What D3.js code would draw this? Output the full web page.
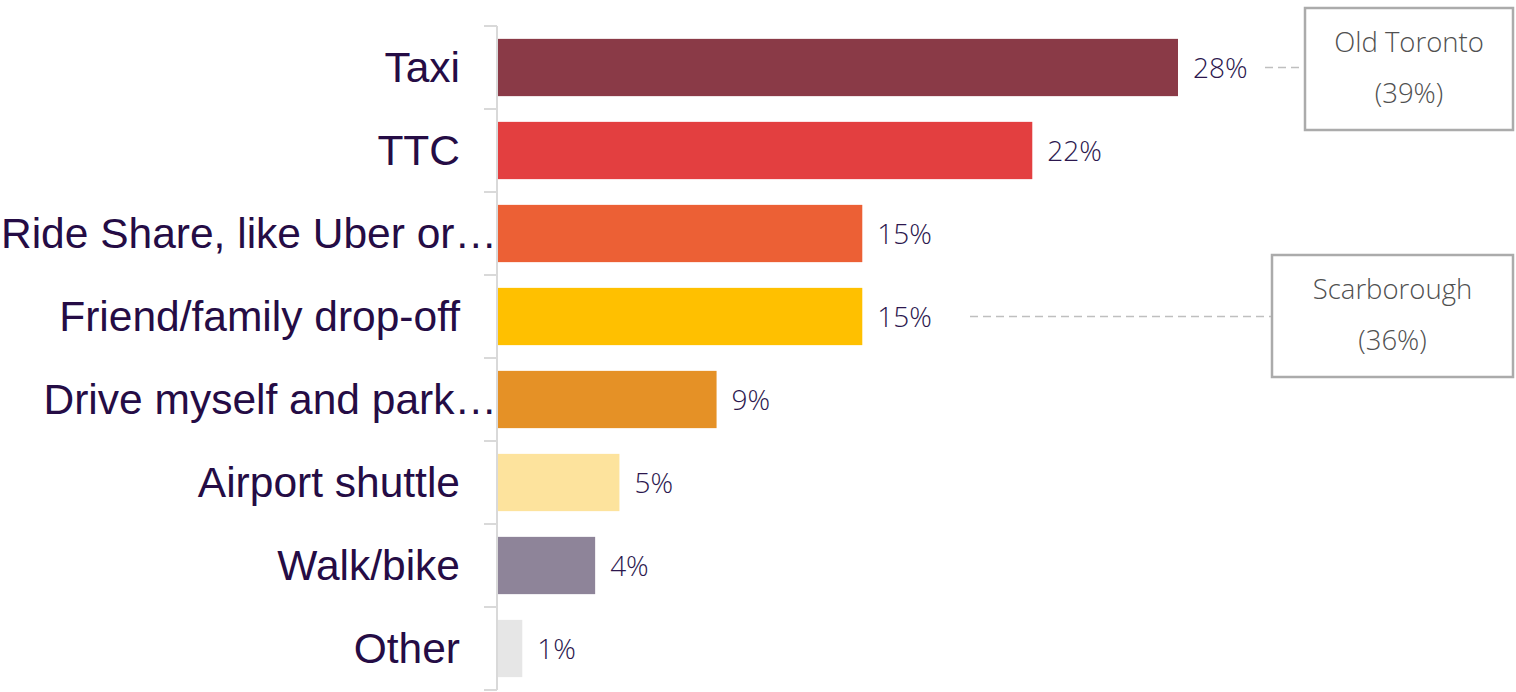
<!DOCTYPE html>
<html><head><meta charset="utf-8">
<script src="https://cdn.jsdelivr.net/npm/d3@7"></script>
<style>body{margin:0;background:#fff}svg{display:block}</style>
</head><body><svg id="c" width="1516" height="692"></svg>
<script>
const categories = ["Taxi","TTC","Ride Share, like Uber or\u2026","Friend/family drop-off","Drive myself and park\u2026","Airport shuttle","Walk/bike","Other"];
const values = [28,22,15,15,9,5,4,1];
const colors = ["#8A3A47","#E33F40","#EC6035","#FFC000","#E59126","#FDE39D","#8E8499","#E6E6E6"];
const calloutNames = ["Old Toronto","Scarborough"];
const calloutValues = [39,36];
const calloutCategory = ["Taxi","Friend/family drop-off"];

const svg = d3.select("#c");
const x0 = 498;
const x = d3.scaleLinear().domain([0,28]).range([x0,1178]);
const y = d3.scaleBand().domain(categories).range([26,690]).paddingInner(0.31).paddingOuter(0.155);
const yTicks = d3.scaleBand().domain(categories).range([26,690]);

svg.append("line").attr("x1",497).attr("x2",497).attr("y1",26).attr("y2",690).attr("stroke","#D9D9D9").attr("stroke-width",2);
const tickYs = categories.map(c=>yTicks(c)).concat([690]);
svg.selectAll(".tk").data(tickYs).join("line").attr("x1",484).attr("x2",497).attr("y1",d=>d).attr("y2",d=>d).attr("stroke","#D9D9D9").attr("stroke-width",2);

svg.selectAll(".bar").data(values).join("rect")
  .attr("x",x0).attr("y",(d,i)=>y(categories[i])).attr("width",d=>x(d)-x0).attr("height",y.bandwidth())
  .attr("fill",(d,i)=>colors[i]);

const catFont = "'Liberation Sans', Arial, sans-serif";
const lightFont = "'Open Sans', 'Liberation Sans', sans-serif";

svg.selectAll(".cat").data(categories).join("text")
  .attr("x",d=>d.endsWith("\u2026") ? 497 : 460).attr("y",d=>y(d)+y.bandwidth()/2).attr("dy","0.35em").attr("text-anchor","end")
  .attr("font-family",catFont).attr("font-size",42.5).attr("fill","#250C45").text(d=>d);

svg.selectAll(".val").data(values).join("text")
  .attr("x",d=>x(d)+15).attr("y",(d,i)=>y(categories[i])+y.bandwidth()/2).attr("dy","0.36em")
  .attr("font-family",lightFont).attr("font-weight",300).attr("font-size",28).attr("fill","#2C174E").text(d=>d+"%");

const boxes = [{x:1305,y:8,w:208,h:122,lx1:1265},{x:1272,y:255,w:241,h:122,lx1:970}];
calloutNames.forEach((n,i)=>{
  const b = boxes[i];
  const cy = y(calloutCategory[i])+y.bandwidth()/2;
  svg.append("line").attr("x1",b.lx1).attr("x2",b.x).attr("y1",cy).attr("y2",cy)
    .attr("stroke","#BFBFBF").attr("stroke-width",1.5).attr("stroke-dasharray","8,5");
  svg.append("rect").attr("x",b.x).attr("y",b.y).attr("width",b.w).attr("height",b.h)
    .attr("fill","#fff").attr("stroke","#ABABAB").attr("stroke-width",2.5);
  svg.append("text").attr("x",b.x+b.w/2).attr("y",b.y+34).attr("dy","0.36em").attr("text-anchor","middle")
    .attr("font-family",lightFont).attr("font-weight",300).attr("font-size",27.5).attr("fill","#505050").text(n);
  svg.append("text").attr("x",b.x+b.w/2).attr("y",b.y+85).attr("dy","0.36em").attr("text-anchor","middle")
    .attr("font-family",lightFont).attr("font-weight",300).attr("font-size",27.5).attr("fill","#505050").text("("+calloutValues[i]+"%)");
});
</script></body></html>
